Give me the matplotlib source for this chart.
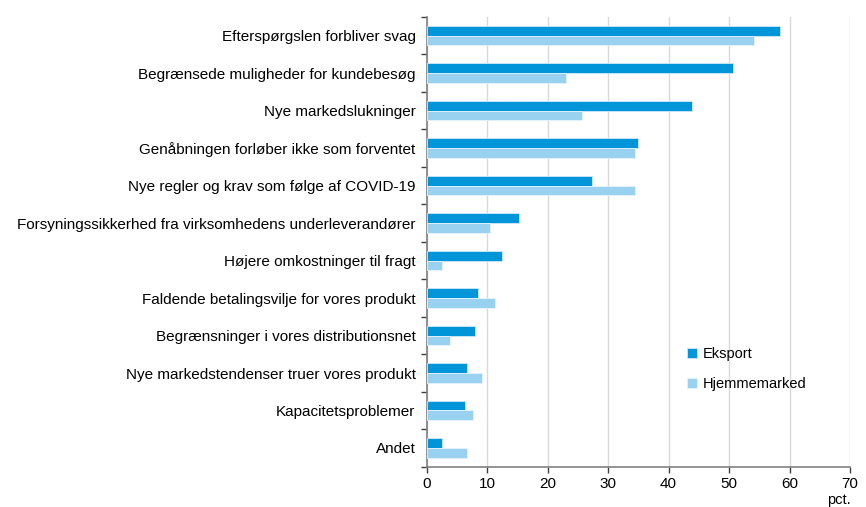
import matplotlib.pyplot as plt
import numpy as np

plt.rcParams['font.family'] = ['Liberation Sans', 'DejaVu Sans']

kategorier = [
    'Efterspørgslen forbliver svag',
    'Begrænsede muligheder for kundebesøg',
    'Nye markedslukninger',
    'Genåbningen forløber ikke som forventet',
    'Nye regler og krav som følge af COVID-19',
    'Forsyningssikkerhed fra virksomhedens underleverandører',
    'Højere omkostninger til fragt',
    'Faldende betalingsvilje for vores produkt',
    'Begrænsninger i vores distributionsnet',
    'Nye markedstendenser truer vores produkt',
    'Kapacitetsproblemer',
    'Andet',
]
eksport = [58.4, 50.7, 43.9, 34.9, 27.4, 15.3, 12.4, 8.5, 8.0, 6.7, 6.3, 2.5]
hjemmemarked = [54.2, 23.0, 25.7, 34.5, 34.5, 10.5, 2.5, 11.3, 3.8, 9.2, 7.6, 6.7]

farve_eks = '#0094d8'
farve_hjem = '#99d1f0'

fig = plt.figure(figsize=(8.66, 5.07), dpi=100)
ax = fig.add_axes([0.4927, 0.0795, 0.4888, 0.887])

y = np.arange(len(kategorier))
h = 0.26
ax.barh(y - h / 2, eksport, height=h, color=farve_eks, edgecolor='#cfe9f7',
        linewidth=0.6, label='Eksport', zorder=3)
ax.barh(y + h / 2, hjemmemarked, height=h, color=farve_hjem, edgecolor='#e6f4fb',
        linewidth=0.6, label='Hjemmemarked', zorder=3)

ax.set_ylim(len(kategorier) - 0.5, -0.5)
ax.set_xlim(0, 70)
ax.set_xticks(range(0, 71, 10))
ax.set_yticks(y)
ax.set_yticklabels(kategorier, fontsize=11)
ax.set_yticks(np.arange(-0.5, len(kategorier), 1), minor=True)
ax.tick_params(axis='y', which='major', length=0, pad=8)
ax.tick_params(axis='y', which='minor', length=4, width=1, color='#404040')
ax.tick_params(axis='x', length=4, width=1, color='#404040', labelsize=11)

ax.grid(axis='x', color='#d9d9d9', linewidth=1, zorder=0)
for s in ['top', 'right']:
    ax.spines[s].set_visible(False)
for s in ['left', 'bottom']:
    ax.spines[s].set_color('#808080')
    ax.spines[s].set_linewidth(1.2)

ax.legend(loc='upper left', bbox_to_anchor=(0.584, 0.295), frameon=False,
          fontsize=10.5, handlelength=0.7, handleheight=0.7, labelspacing=1.1,
          handletextpad=0.4)

fig.text(0.982, 0.0, 'pct.', ha='right', va='bottom', fontsize=10.5)

fig.savefig('out.png', dpi=100)
